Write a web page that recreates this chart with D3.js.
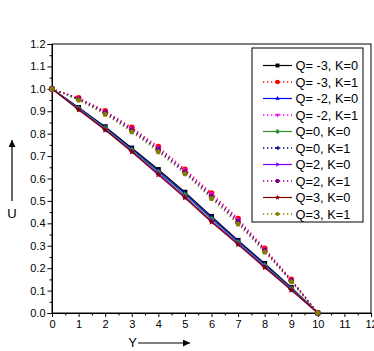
<!DOCTYPE html>
<html><head><meta charset="utf-8">
<script src="https://cdn.jsdelivr.net/npm/d3@7"></script>
<style>body{margin:0;background:#fff}svg{display:block;font-family:"Liberation Sans",Arial,sans-serif}</style>
</head><body><svg id="c" width="374" height="351"></svg>
<script>
const yPts = [0,1,2,3,4,5,6,7,8,9,10];
const seriesNames = ["Q= -3, K=0","Q= -3, K=1","Q= -2, K=0","Q= -2, K=1","Q=0, K=0","Q=0, K=1","Q=2, K=0","Q=2, K=1","Q=3, K=0","Q=3, K=1"];
const qm3k0 = [1,0.917,0.831,0.736,0.640,0.539,0.431,0.324,0.221,0.114,0];
const qm3k1 = [1,0.959,0.902,0.828,0.742,0.641,0.535,0.421,0.288,0.150,0];
const qm2k0 = [1,0.915,0.828,0.732,0.634,0.533,0.425,0.319,0.217,0.111,0];
const qm2k1 = [1,0.957,0.899,0.824,0.737,0.637,0.530,0.416,0.285,0.148,0];
const q0k0  = [1,0.912,0.824,0.727,0.628,0.527,0.419,0.315,0.212,0.108,0];
const q0k1  = [1,0.955,0.895,0.819,0.731,0.631,0.523,0.409,0.281,0.145,0];
const q2k0  = [1,0.909,0.819,0.722,0.621,0.519,0.411,0.309,0.206,0.104,0];
const q2k1  = [1,0.953,0.891,0.814,0.725,0.626,0.517,0.403,0.277,0.142,0];
const q3k0  = [1,0.907,0.816,0.719,0.616,0.514,0.406,0.305,0.203,0.102,0];
const q3k1  = [1,0.950,0.886,0.808,0.719,0.621,0.510,0.396,0.272,0.139,0];
const seriesValues = [qm3k0,qm3k1,qm2k0,qm2k1,q0k0,q0k1,q2k0,q2k1,q3k0,q3k1];
const xTicks = [0,1,2,3,4,5,6,7,8,9,10,11,12];
const yTicks = [0,0.1,0.2,0.3,0.4,0.5,0.6,0.7,0.8,0.9,1.0,1.1,1.2];

const colors = ["#000000","#ff0000","#0000ff","#ff00ff","#2e8b2e","#000080","#8000ff","#800080","#800000","#808000"];
const shapes = ["square","circle","tri","tridown","diamond","trileft","triright","hex","star","pent"];

const svg = d3.select("#c");
const L=52, R=371, T=44, B=313;
const x = d3.scaleLinear().domain([0,12]).range([L,R]);
const y = d3.scaleLinear().domain([0,1.2]).range([B,T]);

function poly(n, r, rot){
  const p=[];for(let i=0;i<n;i++){const a=rot+i*2*Math.PI/n;p.push([r*Math.cos(a),r*Math.sin(a)]);}
  return "M"+p.map(d=>d[0].toFixed(2)+","+d[1].toFixed(2)).join("L")+"Z";
}
function marker(s, r){
  switch(s){
    case "square": return `M${-r*0.85},${-r*0.85}h${1.7*r}v${1.7*r}h${-1.7*r}Z`;
    case "circle": return d3.arc()({innerRadius:0,outerRadius:r,startAngle:0,endAngle:2*Math.PI});
    case "tri": return poly(3,r*1.1,-Math.PI/2);
    case "tridown": return poly(3,r*1.1,Math.PI/2);
    case "diamond": return poly(4,r*1.1,-Math.PI/2);
    case "trileft": return poly(3,r*1.1,Math.PI);
    case "triright": return poly(3,r*1.1,0);
    case "hex": return poly(6,r,0);
    case "star": {const p=[];for(let i=0;i<10;i++){const a=-Math.PI/2+i*Math.PI/5;const rr=i%2?r*0.5:r*1.15;p.push([rr*Math.cos(a),rr*Math.sin(a)]);}return "M"+p.map(d=>d.join(",")).join("L")+"Z";}
    case "pent": return poly(5,r,-Math.PI/2);
  }
}

// frame
svg.append("rect").attr("x",L).attr("y",T).attr("width",R-L).attr("height",B-T)
  .attr("fill","none").attr("stroke","#000").attr("stroke-width",1);

// axes
const xAxis = svg.append("g").attr("transform",`translate(0,${B})`)
  .call(d3.axisBottom(x).tickValues(xTicks).tickFormat(d3.format("d")).tickSize(4).tickPadding(3));
const xMinor = svg.append("g").attr("transform",`translate(0,${B})`)
  .call(d3.axisBottom(x).tickValues(d3.range(0.5,12,1)).tickFormat("").tickSize(2.5));
const yAxis = svg.append("g").attr("transform",`translate(${L},0)`)
  .call(d3.axisLeft(y).tickValues(yTicks).tickFormat(d3.format(".1f")).tickSize(4.5).tickPadding(2));
const yMinor = svg.append("g").attr("transform",`translate(${L},0)`)
  .call(d3.axisLeft(y).tickValues(d3.range(0.05,1.2,0.1)).tickFormat("").tickSize(2.5));
[xAxis,xMinor,yAxis,yMinor].forEach(g=>{
  g.selectAll(".domain").attr("stroke","#000");
  g.selectAll("line").attr("stroke","#000");
  g.selectAll("text").attr("font-size",11).attr("fill","#000").attr("font-family","'Liberation Sans',Arial,sans-serif");
});

// series
const line = d3.line().x((d,i)=>x(yPts[i])).y(d=>y(d));
seriesValues.forEach((vals,k)=>{
  const dotted = k%2===1;
  svg.append("path").attr("d",line(vals)).attr("fill","none")
    .attr("stroke",colors[k]).attr("stroke-width",dotted?1.3:1.2)
    .attr("stroke-dasharray",dotted?"1.3,2.7":null);
  svg.append("g").selectAll("path").data(vals).join("path")
    .attr("transform",(d,i)=>`translate(${x(yPts[i])},${y(d)})`)
    .attr("d",marker(shapes[k],2.9)).attr("fill",colors[k]);
});

// legend
const lg = svg.append("g");
const lgX=252, lgY=48, lgW=111, lgH=174, rowH=16.5, row0=65.5;
lg.append("rect").attr("x",lgX).attr("y",lgY).attr("width",lgW).attr("height",lgH)
  .attr("fill","#fff").attr("stroke","#000").attr("stroke-width",1);
seriesNames.forEach((nm,k)=>{
  const yy=row0+k*rowH, dotted=k%2===1;
  lg.append("line").attr("x1",263).attr("x2",292).attr("y1",yy).attr("y2",yy)
    .attr("stroke",colors[k]).attr("stroke-width",dotted?1.3:1.2)
    .attr("stroke-dasharray",dotted?"1.3,2.7":null);
  lg.append("path").attr("transform",`translate(277.5,${yy})`).attr("d",marker(shapes[k],2.3)).attr("fill",colors[k]);
  lg.append("text").attr("x",295.5).attr("y",yy).attr("dy","0.36em").attr("font-size",12.8).text(nm);
});

// axis titles with arrows
const defs = svg.append("defs");
defs.append("marker").attr("id","ah").attr("viewBox","0 0 10 10").attr("refX",10).attr("refY",5)
  .attr("markerWidth",7).attr("markerHeight",7).attr("markerUnits","userSpaceOnUse").attr("orient","auto")
  .append("path").attr("d","M0,0L10,5L0,10Z").attr("fill","#000");
svg.append("text").attr("x",12).attr("y",213).attr("dy","0.36em").attr("text-anchor","middle").attr("font-size",13).text("U");
svg.append("line").attr("x1",12).attr("x2",12).attr("y1",201).attr("y2",140).attr("stroke","#000").attr("stroke-width",1.2).attr("marker-end","url(#ah)");
svg.append("text").attr("x",132.5).attr("y",342.5).attr("dy","0.36em").attr("text-anchor","middle").attr("font-size",13).text("Y");
svg.append("line").attr("x1",138).attr("x2",190).attr("y1",343).attr("y2",343).attr("stroke","#000").attr("stroke-width",1.2).attr("marker-end","url(#ah)");
</script></body></html>
